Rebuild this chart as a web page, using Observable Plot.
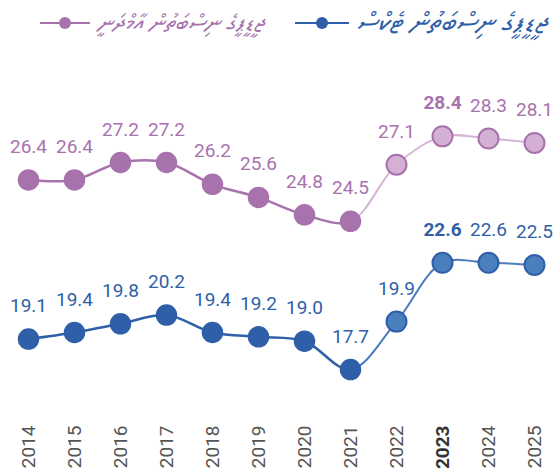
<!DOCTYPE html>
<html><head><meta charset="utf-8">
<script src="https://cdn.jsdelivr.net/npm/d3@7"></script>
<script src="https://cdn.jsdelivr.net/npm/@observablehq/plot@0.6"></script>
<style>
body{margin:0;background:#fff;width:555px;height:472px;overflow:hidden;font-family:Roboto,sans-serif}
#legend{position:relative;height:40px;width:555px}
.lg-text{position:absolute;top:6px;direction:rtl;font-family:"MV Boli","Faruma","Noto Sans Thaana","DejaVu Sans",sans-serif;font-style:italic;white-space:nowrap;line-height:34px}
.lg-mark{position:absolute;top:13px}
</style></head><body>
<div id="legend"></div>
<div id="chart"></div>
<script>
const years = ["2014","2015","2016","2017","2018","2019","2020","2021","2022","2023","2024","2025"];
const revenue = [26.4,26.4,27.2,27.2,26.2,25.6,24.8,24.5,27.1,28.4,28.3,28.1];
const tax = [19.1,19.4,19.8,20.2,19.4,19.2,19.0,17.7,19.9,22.6,22.6,22.5];
const seriesNames = ["ޖީޑީޕީގެ ނިސްބަތުން އާމްދަނީ","ޖީޑީޕީގެ ނިސްބަތުން ޓެކްސް"];
const lastActual = "2021";
const highlightYear = "2023";

const colors = {
  rev: {dark:"#a872ad", light:"#d3b0d4", lineLight:"#d5b3d6"},
  tax: {dark:"#2f5fa8", light:"#4a7fbe", lineLight:"#4a7dbd"}
};

const cut = years.indexOf(lastActual);
const mk = (vals, key) => vals.map((v,i)=>({year:years[i], value:v, key, future:i>cut, hi:years[i]===highlightYear}));
const rev = mk(revenue,"rev");
const tx = mk(tax,"tax");

// legend
const legend = document.getElementById("legend");
function legendItem(name, col, lineX0, lineX1, textRight, size){
  const s = document.createElementNS("http://www.w3.org/2000/svg","svg");
  s.setAttribute("class","lg-mark");
  s.setAttribute("width", lineX1-lineX0);
  s.setAttribute("height", 20);
  s.style.left = lineX0+"px";
  const w = lineX1-lineX0;
  s.innerHTML = `<line x1="0" x2="${w}" y1="10" y2="10" stroke="${col}" stroke-width="2"/><circle cx="${w/2}" cy="10" r="6" fill="${col}"/>`;
  legend.appendChild(s);
  const t = document.createElement("div");
  t.className = "lg-text";
  t.style.right = textRight+"px";
  t.style.color = col;
  t.style.fontSize = size+"px";
  t.textContent = name;
  legend.appendChild(t);
}
legendItem(seriesNames[1], colors.tax.dark, 295, 349, 7, 27.5);
legendItem(seriesNames[0], colors.rev.dark, 40, 90, 290, 23);

const lineOpts = (c, w) => ({x:"year", y:"value", curve:"catmull-rom", stroke:c, strokeWidth:w});
const labelOpts = (c, bold) => ({x:"year", y:"value", text:d=>d.value.toFixed(1), dy:-33, fill:c, fontSize:19, fontWeight: bold?"bold":"normal", fontFamily:"Roboto, sans-serif"});

const plot = Plot.plot({
  width:555, height:432,
  marginTop:61, marginBottom:55, marginLeft:25, marginRight:18,
  x:{type:"point", domain:years, padding:0, label:null},
  y:{domain:[15.5,30], axis:null},
  style:{fontFamily:"Roboto, sans-serif", background:"#fff"},
  marks:[
    Plot.axisX({tickRotate:-90, tickSize:0, tickPadding:8, fontSize:19, fill:"#555", label:null}),
    Plot.line(rev, lineOpts(colors.rev.dark, 2.5)),
    Plot.line(rev, lineOpts(colors.rev.lineLight, 2)),
    Plot.line(tx, lineOpts(colors.tax.dark, 2.5)),
    Plot.line(tx, lineOpts(colors.tax.lineLight, 2)),
    Plot.dot(rev.filter(d=>!d.future), {x:"year", y:"value", r:10, fill:colors.rev.dark, stroke:colors.rev.dark, strokeWidth:1.5}),
    Plot.dot(rev.filter(d=>d.future), {x:"year", y:"value", r:10, fill:colors.rev.light, stroke:colors.rev.dark, strokeWidth:2}),
    Plot.dot(tx.filter(d=>!d.future), {x:"year", y:"value", r:10, fill:colors.tax.dark, stroke:colors.tax.dark, strokeWidth:1.5}),
    Plot.dot(tx.filter(d=>d.future), {x:"year", y:"value", r:10, fill:colors.tax.light, stroke:colors.tax.dark, strokeWidth:2}),
    Plot.text(rev.filter(d=>!d.hi), labelOpts(colors.rev.dark,false)),
    Plot.text(rev.filter(d=>d.hi), labelOpts(colors.rev.dark,true)),
    Plot.text(tx.filter(d=>!d.hi), labelOpts(colors.tax.dark,false)),
    Plot.text(tx.filter(d=>d.hi), labelOpts(colors.tax.dark,true))
  ]
});
plot.querySelectorAll("g[aria-label='x-axis tick label'] text").forEach(t=>{
  if (t.textContent === highlightYear) { t.setAttribute("font-weight","bold"); t.setAttribute("fill","#333"); }
});
// split each continuous curve at the last actual year with clip paths
const xCut = plot.scale("x").apply(lastActual);
const ns = "http://www.w3.org/2000/svg";
const defs = document.createElementNS(ns,"defs");
defs.innerHTML = `<clipPath id="clipL"><rect x="0" y="0" width="${xCut}" height="432"/></clipPath><clipPath id="clipR"><rect x="${xCut}" y="0" width="${555-xCut}" height="432"/></clipPath>`;
plot.insertBefore(defs, plot.firstChild);
const lines = plot.querySelectorAll("g[aria-label='line']");
lines.forEach((g,i)=> g.setAttribute("clip-path", i%2===0 ? "url(#clipL)" : "url(#clipR)"));
document.getElementById("chart").appendChild(plot);
</script>
</body></html>
